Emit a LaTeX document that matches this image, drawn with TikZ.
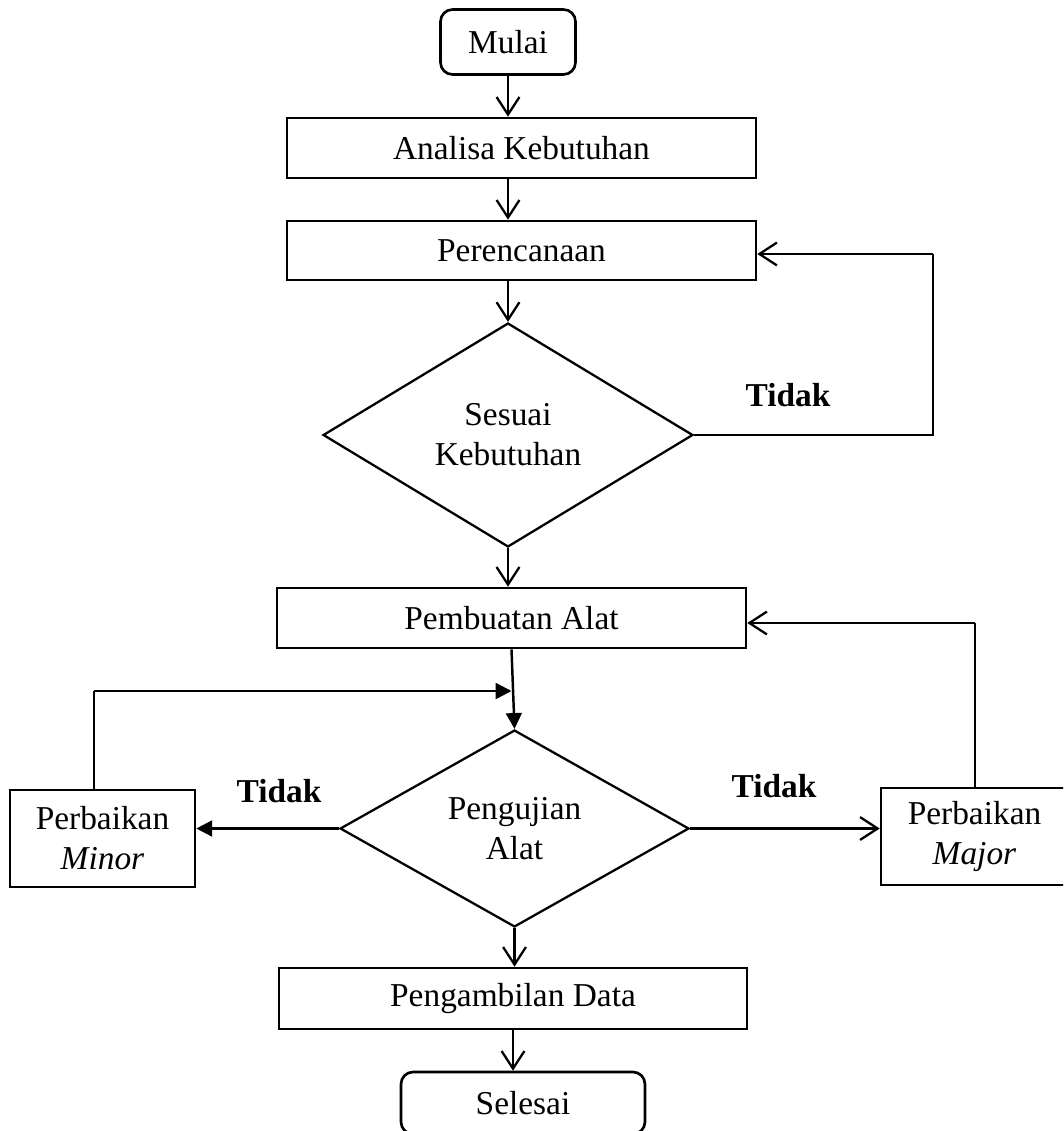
\documentclass[tikz,border=0pt]{standalone}
\usepackage{fontspec}
\setmainfont{Liberation Serif}
\usetikzlibrary{shapes.geometric, arrows.meta, positioning}

\begin{document}
\begin{tikzpicture}[x=0.02cm, y=-0.02cm,
	font=\fontsize{19}{22.7}\selectfont,
	terminal/.style={draw, line width=1.5pt, rounded corners=0.24cm, align=center, inner sep=0pt},
	proses/.style={draw, line width=1.5pt, align=center, inner sep=0pt},
	keputusan/.style={draw, diamond, line width=1.3pt, align=center, inner sep=0pt},
	panah/.style={line width=1.3pt, -{Straight Barb[length=10pt, width=13pt]}},
	panahisi/.style={line width=1.4pt, -{Triangle[length=9pt, width=9pt]}},
	garis/.style={line width=0.8pt},
	ket/.style={font=\fontsize{19}{22.7}\selectfont\bfseries}]
			\clip (0, 0) rectangle (1063, 1131);

			\node[terminal, minimum width=2.7cm, minimum height=1.3cm] at (508, 42) (mulai) {Mulai};
			\node[proses, minimum width=9.38cm, minimum height=1.2cm] at (521.5, 148) (analisa) {Analisa Kebutuhan};
			\node[proses, minimum width=9.38cm, minimum height=1.18cm] at (521.5, 250.5) (perencanaan) {Perencanaan};
			\node[keputusan, aspect=1.65, minimum width=7.4cm, minimum height=4.48cm] at (508, 435) (sesuai) {Sesuai\\Kebutuhan};
			\node[proses, minimum width=9.38cm, minimum height=1.2cm] at (511.5, 618) (pembuatan) {Pembuatan Alat};
			\node[keputusan, aspect=1.77, minimum width=6.98cm, minimum height=3.94cm] at (514.5, 828.5) (pengujian) {Pengujian\\Alat};
			\node[proses, minimum width=3.7cm, minimum height=1.94cm] at (102.5, 838.5) (minor) {Perbaikan\\\textit{Minor}};
			\node[proses, minimum width=3.74cm, minimum height=1.94cm] at (974.5, 836.5) (major) {Perbaikan\\\textit{Major}};
			\node[proses, minimum width=9.36cm, minimum height=1.22cm] at (513, 998.5) (pengambilan) {Pengambilan Data};
			\node[terminal, minimum width=4.88cm, minimum height=1.24cm] at (523, 1103) (selesai) {Selesai};

			\node[ket] at (788, 395) (tidak1) {Tidak};
			\node[ket] at (279, 791) (tidak2) {Tidak};
			\node[ket] at (774, 786) (tidak3) {Tidak};

			\coordinate (k1) at (933, 254);
			\coordinate (k2) at (94, 691);
			\coordinate (k3) at (975, 623);

			% alur utama
			\draw[panah] (mulai.south) -- (mulai.south |- analisa.north);
			\draw[panah] (mulai.south |- analisa.south) -- (mulai.south |- perencanaan.north);
			\draw[panah] (sesuai.north |- perencanaan.south) -- (sesuai.north);
			\draw[panah] (sesuai.south) -- (sesuai.south |- pembuatan.north);
			\draw[panahisi] (pembuatan.south) -- (pengujian.north);
			\draw[panah] (pengujian.south) -- (pengujian.south |- pengambilan.north);
			\draw[panah] (pengambilan.south) -- (pengambilan.south |- selesai.north);

			% cabang tidak
			\draw[garis] (sesuai.east) -| (k1);
			\draw[panah] (k1) -- (k1 -| perencanaan.east);
			\draw[panahisi] (pengujian.west) -- (pengujian.west -| minor.east);
			\draw[garis] (minor.north -| k2) -- (k2);
			\draw[panahisi] (k2) -- (k2 -| pembuatan.south);
			\draw[panah] (pengujian.east) -- (pengujian.east -| major.west);
			\draw[garis] (major.north -| k3) -- (k3);
			\draw[panah] (k3) -- (k3 -| pembuatan.east);
\end{tikzpicture}
\end{document}
